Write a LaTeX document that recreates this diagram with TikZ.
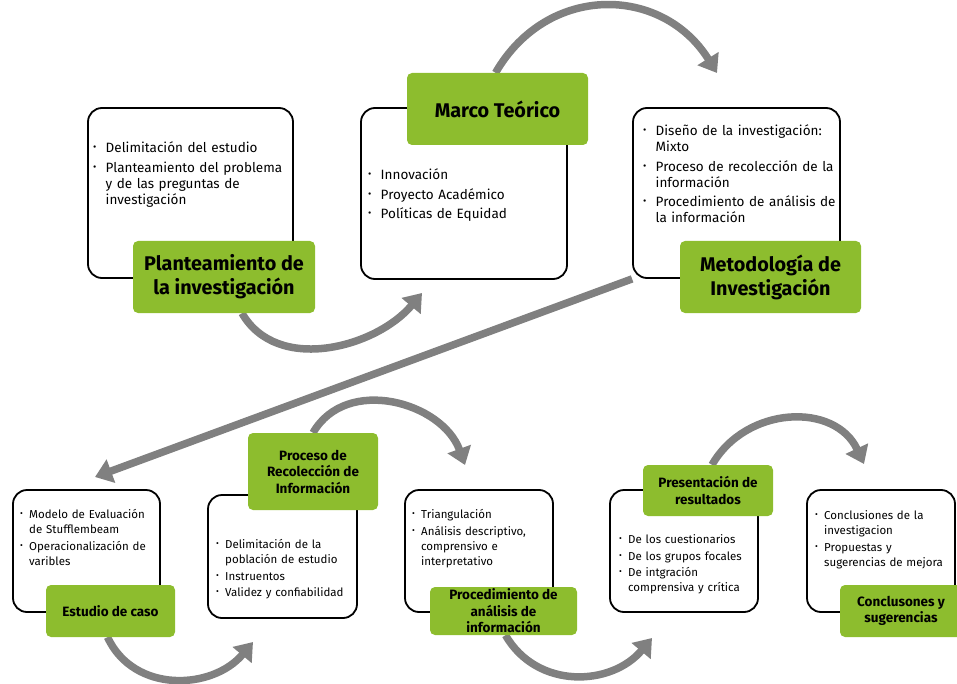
\documentclass[tikz,border=0pt]{standalone}
\usepackage{fontspec}
\setmainfont{Fira Sans}
\usepackage{graphicx}
\usetikzlibrary{arrows.meta,backgrounds}

\definecolor{hojaverde}{RGB}{141,189,46}
\definecolor{flechagris}{RGB}{128,128,128}

\newlength{\sangria}
\newcommand{\itm}[1]{\par\noindent\makebox[\sangria][l]{\raisebox{0.3ex}{\scalebox{0.75}{\textbullet}}}\parbox[t]{190pt}{\strut#1\strut}}
\newcommand{\nl}{\hfil\break}
\newcommand{\toplist}{\fontsize{13.5}{16}\selectfont}
\newcommand{\botlist}{\fontsize{11.5}{15}\selectfont}
\newcommand{\topgreen}{\fontsize{19.8}{24}\selectfont\bfseries}
\newcommand{\botgreen}{\fontsize{13.5}{16.5}\selectfont\bfseries}

\tikzset{
  caja/.style={draw=black, line width=1.8pt, fill=white, rounded corners=14pt, inner sep=0pt},
  titulo/.style={fill=hojaverde, rounded corners=5pt, inner sep=0pt, align=center, text=black},
  lista/.style={anchor=north west, inner sep=0pt, text width=210pt},
  listaarriba/.style={lista, font=\toplist, execute at begin node={\setlength{\sangria}{12.5pt}\setlength{\parskip}{3.5pt}\lineskip=0pt}},
  listaabajo/.style={lista, font=\botlist, execute at begin node={\setlength{\sangria}{9pt}\setlength{\parskip}{1.5pt}\lineskip=0pt}},
  flecha/.style={draw=flechagris, line width=7.5pt, -{Triangle[width=24pt,length=17pt]}},
}

\begin{document}
\begin{tikzpicture}[x=1pt, y=-1pt]
\useasboundingbox (0,0) rectangle (957,684);

% fila de arriba
\draw (190.5,193) node[caja, minimum width=205pt, minimum height=170pt] (w1) {};
\draw (93,133) node[listaarriba] (t1) {\itm{Delimitación del estudio}\itm{Planteamiento del problema\nl y de las preguntas de\nl investigación}};
\draw (224,277) node[titulo, minimum width=182pt, minimum height=72pt, font=\topgreen] (g1) {Planteamiento de\\la investigación};

\draw (464,193.5) node[caja, minimum width=206pt, minimum height=171pt] (w2) {};
\draw (368,160) node[listaarriba] (t2) {\itm{Innovación}\itm{Proyecto Académico}\itm{Políticas de Equidad}};
\draw (497.5,109) node[titulo, minimum width=181pt, minimum height=72pt, font=\topgreen] (g2) {Marco Teórico};

\draw (736.5,193) node[caja, minimum width=207pt, minimum height=170pt] (w3) {};
\draw (643,116) node[listaarriba] (t3) {\itm{Diseño de la investigación:\nl Mixto}\itm{Proceso de recolección de la\nl información}\itm{Procedimiento de análisis de\nl la información}};
\draw (770.5,277) node[titulo, minimum width=181pt, minimum height=72pt, font=\topgreen] (g3) {Metodología de\\Investigación};

% fila de abajo
\draw (86.5,551) node[caja, minimum width=147pt, minimum height=122pt] (w4) {};
\draw (20,502) node[listaabajo] (t4) {\itm{Modelo de Evaluación\nl de Stufflembeam}\itm{Operacionalización de\nl varibles}};
\draw (110.5,611) node[titulo, minimum width=129pt, minimum height=52pt, font=\botgreen] (g4) {Estudio de caso};

\draw (282.5,556.5) node[caja, minimum width=149pt, minimum height=123pt] (w5) {};
\draw (216,532) node[listaabajo] (t5) {\itm{Delimitación de la\nl población de estudio}\itm{Instruentos}\itm{Validez y confiabilidad}};
\draw (313,471.5) node[titulo, minimum width=130pt, minimum height=77pt, font=\botgreen] (g5) {Proceso de\\Recolección de\\Información};

\draw (479,551) node[caja, minimum width=148pt, minimum height=122pt] (w6) {};
\draw (412,502) node[listaabajo] (t6) {\itm{Triangulación}\itm{Análisis descriptivo,\nl comprensivo e\nl interpretativo}};
\draw (503.5,611) node[titulo, minimum width=147pt, minimum height=48pt, font=\botgreen] (g6) {Procedimiento de\\análisis de\\información};

\draw (684,551) node[caja, minimum width=148pt, minimum height=122pt] (w7) {};
\draw (619,527) node[listaabajo] (t7) {\itm{De los cuestionarios}\itm{De los grupos focales}\itm{De intgración\nl comprensiva y crítica}};
\draw (708,490.5) node[titulo, minimum width=130pt, minimum height=51pt, font=\botgreen] (g7) {Presentación de\\resultados};

\draw (881,551) node[caja, minimum width=148pt, minimum height=122pt] (w8) {};
\draw (815,503) node[listaabajo] (t8) {\itm{Conclusiones de la\nl investigacion}\itm{Propuestas y\nl sugerencias de mejora}};
\draw (901,611) node[titulo, minimum width=122pt, minimum height=52pt, font=\botgreen] (g8) {Conclusones y\\sugerencias};

% flechas
\begin{pgfonlayer}{background}
\coordinate (a1) at (422,293);
\coordinate (a2) at (717,73);
\coordinate (a3) at (95,477);
\coordinate (a4) at (253,642);
\coordinate (a5) at (465,465);
\coordinate (a6) at (652,638);
\coordinate (a7) at (864,464);
\draw[flecha] ([xshift=18pt]g1.south) to[out=-60, in=-130] (a1);
\draw[flecha] ([xshift=-2pt]g2.north) to[out=60, in=122, looseness=1.2] (a2);
\draw[flecha] (w3.south west) -- (a3);
\draw[flecha] ([xshift=-3pt]g4.south) to[out=-65, in=-130, looseness=1.1] (a4);
\draw[flecha] (g5.north) to[out=60, in=110, looseness=1.1] (a5);
\draw[flecha] ([xshift=2pt]g6.south) to[out=-60, in=-130, looseness=1.1] (a6);
\draw[flecha] ([xshift=4pt]g7.north) to[out=60, in=115, looseness=1.15] (a7);
\end{pgfonlayer}
\end{tikzpicture}
\end{document}
